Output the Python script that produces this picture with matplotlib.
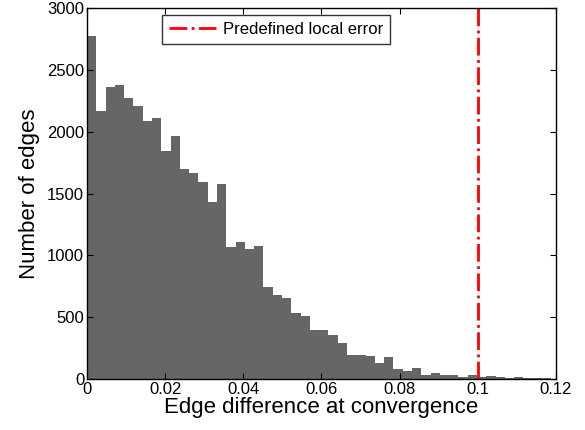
import matplotlib
matplotlib.use("Agg")
import matplotlib.pyplot as plt
import numpy as np
from matplotlib.ticker import FuncFormatter

bin_width = 0.002376
counts = [2770, 2170, 2363, 2374, 2274, 2207, 2083, 2110, 1843, 1967,
          1695, 1665, 1593, 1433, 1576, 1067, 1107, 1053, 1078, 746,
          679, 655, 531, 509, 393, 393, 353, 291, 194, 197,
          186, 129, 175, 78, 65, 86, 32, 46, 35, 30,
          19, 30, 20, 24, 14, 6, 19, 12, 10, 8]
threshold = 0.1
legend_label = "Predefined local error"
xticks = [0, 0.02, 0.04, 0.06, 0.08, 0.1, 0.12]
yticks = [0, 500, 1000, 1500, 2000, 2500, 3000]

plt.rcParams['font.family'] = ['Liberation Sans', 'DejaVu Sans']

fig = plt.figure(figsize=(5.85, 4.3), dpi=100)
ax = fig.add_axes([0.1487, 0.1186, 0.8017, 0.8628])

edges = np.arange(len(counts)) * bin_width
ax.bar(edges, counts, width=bin_width, align='edge', color='#666666',
       edgecolor='none', linewidth=0)
ax.plot([threshold, threshold], [0, 3000], color='red', linestyle='-.',
        linewidth=2, label=legend_label)

ax.set_xlim(0, 0.12)
ax.set_ylim(0, 3000)
ax.set_xticks(xticks)
ax.set_yticks(yticks)
ax.xaxis.set_major_formatter(FuncFormatter(lambda v, p: "%g" % v))
ax.tick_params(direction='in', top=True, right=True, labelsize=12, length=4,
               pad=2)
for s in ax.spines.values():
    s.set_linewidth(1.0)

ax.set_xlabel("Edge difference at convergence", fontsize=16, labelpad=0)
ax.set_ylabel("Number of edges", fontsize=16, labelpad=5)

leg = ax.legend(loc='upper left', bbox_to_anchor=(0.16, 0.981), fontsize=12,
                frameon=True, fancybox=False, borderpad=0.42, handlelength=2.8,
                handletextpad=0.45, borderaxespad=0.0)
leg.get_frame().set_edgecolor('black')
leg.get_frame().set_linewidth(1.0)

fig.savefig("out.png", dpi=100)
